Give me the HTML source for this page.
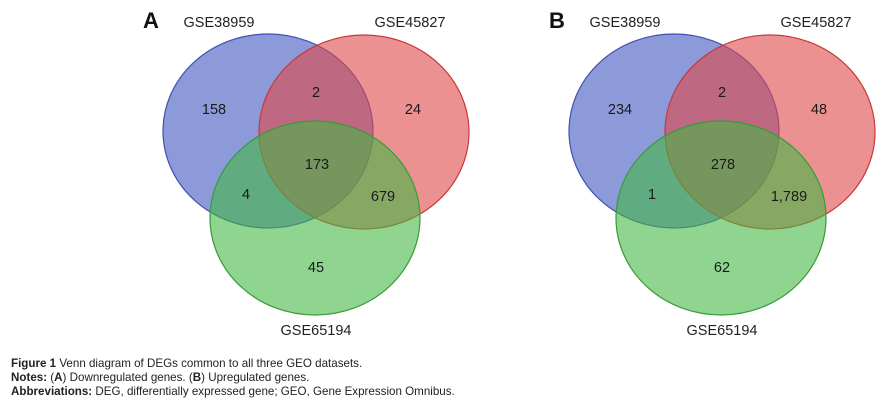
<!DOCTYPE html>
<html><head><meta charset="utf-8"><style>
body{margin:0;background:#fff;width:882px;height:412px;overflow:hidden;font-family:"Liberation Sans",sans-serif}
.cap{position:absolute;left:11px;font-size:11.6px;color:#222;white-space:nowrap}
</style></head><body>
<svg id="chart" width="882" height="350" style="position:absolute;left:0;top:0"></svg>
<div class="cap" style="top:357px"><b>Figure 1</b> Venn diagram of DEGs common to all three GEO datasets.</div>
<div class="cap" style="top:371px"><b>Notes:</b> (<b>A</b>) Downregulated genes. (<b>B</b>) Upregulated genes.</div>
<div class="cap" style="top:385px"><b>Abbreviations:</b> DEG, differentially expressed gene; GEO, Gene Expression Omnibus.</div>
<script>
const sets = ["GSE38959","GSE45827","GSE65194"];
const panels = ["A","B"];
const countsA = [158,24,45,2,4,679,173];
const countsB = [234,48,62,2,1,1789,278];
const NS="http://www.w3.org/2000/svg";
const svg=document.getElementById('chart');
function mk(t,a){const e=document.createElementNS(NS,t);for(const k in a)e.setAttribute(k,a[k]);return e;}
const circ=[{dx:0,dy:0,f:"#3f56c2",s:"#4050b0"},{dx:96,dy:1,f:"#e04848",s:"#c83838"},{dx:47,dy:87,f:"#45b845",s:"#3a9a3a"}];
// region offsets relative to blue center: only-blue, only-red, only-green, blue-red, blue-green, red-green, all
const reg=[[-54,-22],[145,-22],[48,136],[48,-39],[-22,63],[115,65],[49,33]];
function fmt(v){return v.toLocaleString('en-US');}
function panel(ox,letter,counts,idx){
  const g=mk('g',{});
  
  
  svg.appendChild(g);
  circ.forEach((c,i)=>{
    const e=mk('ellipse',{cx:ox+c.dx,cy:131+c.dy,rx:105,ry:97,fill:c.f,'fill-opacity':0.6,stroke:c.s,'stroke-width':1.2});
    
    
    g.appendChild(e);
  });
  const L=mk('text',{x:ox-125,y:28,'font-size':22,'font-weight':'bold',fill:'#111'});
  L.textContent=letter;
  
  
  g.appendChild(L);
  const lp=[[-49,27],[142,27],[48,335]];
  sets.forEach((s,i)=>{
    const t=mk('text',{x:ox+lp[i][0],y:lp[i][1],'font-size':14.5,'text-anchor':'middle',fill:'#222'});
    t.textContent=s;
    
    
    g.appendChild(t);
  });
  counts.forEach((v,i)=>{
    const t=mk('text',{x:ox+reg[i][0],y:131+reg[i][1]+5,'font-size':14.5,'text-anchor':'middle',fill:'#1a1a1a'});
    t.textContent=fmt(v);
    
    
    g.appendChild(t);
  });
}
panel(268,panels[0],countsA);
panel(674,panels[1],countsB);
</script>
</body></html>
